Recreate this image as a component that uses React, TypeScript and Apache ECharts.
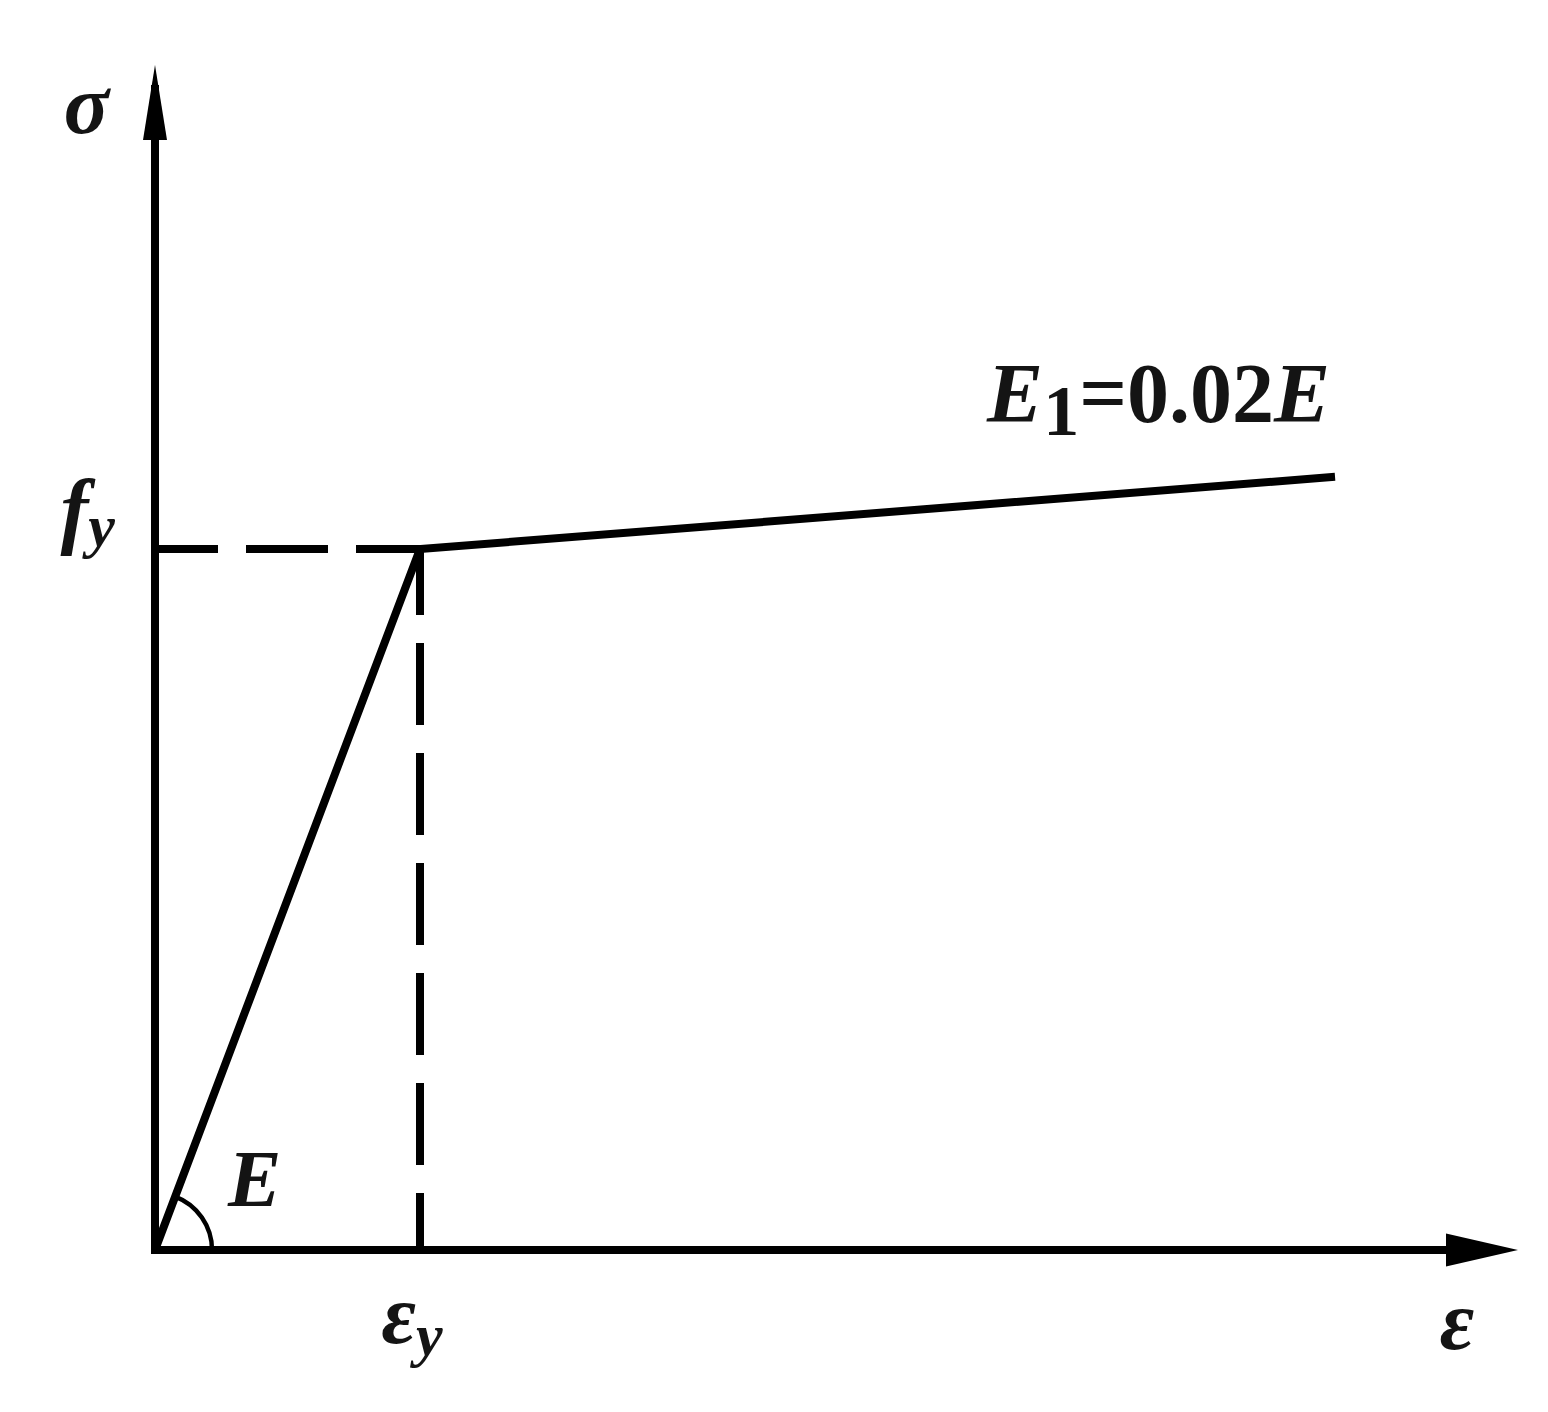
import React, { useEffect, useRef } from "react";
import * as echarts from "echarts";

// Bilinear (hardening) stress–strain model, normalised: ε_y = 1, f_y = 1
const strain = [0, 1, 4.453];
const stress = [0, 1, 1.103];
const yieldStrain = 1;
const yieldStress = 1;
const xMax = 5.068;
const yMax = 1.662;
const xTickLabel = "{m|ε}{s|y}";
const yTickLabel = "{m|f}{s|y}";
const xName = "ε";
const yName = "σ";
const slopeLabel = "E";
const hardeningLabel = ["E", "1", "=0.02", "E"];

const FONT = "Liberation Serif";
const INK = "#141414";
const LW = 8;

export default function App() {
  const ref = useRef<HTMLDivElement>(null);

  useEffect(() => {
    if (!ref.current) return;
    const chart = echarts.init(ref.current, undefined, { renderer: "svg" });

    const lineStyleBase = { color: "#000", width: LW };

    chart.setOption({
      animation: false,
      backgroundColor: "#fff",
      grid: { left: 155, top: 85, right: 50, bottom: 162, containLabel: false },
      xAxis: {
        type: "value",
        min: 0,
        max: xMax,
        name: xName,
        nameLocation: "end",
        nameGap: -41,
        nameTextStyle: {
          fontFamily: FONT,
          fontStyle: "italic",
          fontWeight: "bold",
          fontSize: 84,
          lineHeight: 84,
          color: INK,
          align: "center",
          verticalAlign: "top",
          padding: [28, 0, 0, 0],
        },
        axisLine: {
          show: true,
          symbol: ["none", "triangle"],
          symbolSize: [33, 72],
          symbolOffset: [0, -16],
          lineStyle: { color: "#000", width: LW, cap: "butt" },
        },
        axisTick: { show: false },
        splitLine: { show: false },
        axisLabel: {
          customValues: [yieldStrain],
          formatter: () => xTickLabel,
          margin: 22,
          color: INK,
          padding: [0, 16, 0, 0],
          rich: {
            m: { fontFamily: FONT, fontStyle: "italic", fontWeight: "bold", fontSize: 84, lineHeight: 84, color: INK },
            s: { fontFamily: FONT, fontStyle: "italic", fontWeight: "bold", fontSize: 60, lineHeight: 60, padding: [42, 0, 0, 0], color: INK },
          },
        },
      },
      yAxis: {
        type: "value",
        min: 0,
        max: yMax,
        name: yName,
        nameLocation: "end",
        nameGap: -19,
        nameTextStyle: {
          fontFamily: FONT,
          fontStyle: "italic",
          fontWeight: "bold",
          fontSize: 84,
          lineHeight: 84,
          color: INK,
          align: "right",
          verticalAlign: "middle",
          padding: [0, 46, 0, 0],
        },
        axisLine: {
          show: true,
          symbol: ["none", "triangle"],
          symbolSize: [24, 75],
          symbolOffset: [0, -17.5],
          lineStyle: { color: "#000", width: LW, cap: "butt" },
        },
        axisTick: { show: false },
        splitLine: { show: false },
        axisLabel: {
          customValues: [yieldStress],
          formatter: () => yTickLabel,
          margin: 40,
          color: INK,
          padding: [0, 0, 80, 0],
          rich: {
            m: { fontFamily: FONT, fontStyle: "italic", fontWeight: "bold", fontSize: 84, lineHeight: 84, color: INK },
            s: { fontFamily: FONT, fontStyle: "italic", fontWeight: "bold", fontSize: 60, lineHeight: 60, padding: [34, 0, 0, 0], color: INK },
          },
        },
      },
      series: [
        {
          type: "line",
          data: [
            [0, yieldStress],
            [yieldStrain, yieldStress],
          ],
          symbol: "none",
          lineStyle: { ...lineStyleBase, type: [82, 28], dashOffset: 19 },
          z: 2,
        },
        {
          type: "line",
          data: [
            [yieldStrain, yieldStress],
            [yieldStrain, 0],
          ],
          symbol: "none",
          lineStyle: { ...lineStyleBase, type: [82, 28], dashOffset: 16 },
          z: 2,
        },
        {
          type: "line",
          data: strain.map((s, i) => [s, stress[i]]),
          symbol: "none",
          lineStyle: { ...lineStyleBase, join: "miter" },
          z: 3,
        },
      ],
    });

    const o = chart.convertToPixel({ gridIndex: 0 }, [0, 0]) as number[];
    const yp = chart.convertToPixel({ gridIndex: 0 }, [yieldStrain, yieldStress]) as number[];
    const ep = chart.convertToPixel({ gridIndex: 0 }, [strain[strain.length - 1], stress[stress.length - 1]]) as number[];
    const ang = Math.atan2(o[1] - yp[1], yp[0] - o[0]);

    const bi = { fontFamily: FONT, fontStyle: "italic", fontWeight: "bold", color: INK };

    chart.setOption({
      graphic: [
        {
          type: "rect",
          shape: { x: o[0] - LW / 2, y: o[1] - LW / 2, width: LW, height: LW },
          style: { fill: "#000" },
          z: 10,
        },
        {
          type: "arc",
          shape: { cx: o[0], cy: o[1], r: 57, startAngle: -ang, endAngle: 0, clockwise: true },
          style: { stroke: "#000", lineWidth: 4.5, fill: "none" },
          z: 10,
        },
        {
          type: "text",
          x: o[0] + 73,
          y: o[1] - 71,
          style: {
            text: slopeLabel,
            font: `italic bold 80px "${FONT}"`,
            fill: INK,
            align: "left",
            verticalAlign: "middle",
          },
          z: 10,
        },
        {
          type: "text",
          x: ep[0] - 5,
          y: ep[1] - 83,
          style: {
            text: `{i|${hardeningLabel[0]}}{s|${hardeningLabel[1]}}{n|${hardeningLabel[2]}}{i|${hardeningLabel[3]}}`,
            align: "right",
            verticalAlign: "middle",
            fill: INK,
            rich: {
              i: { ...bi, fontSize: 84, lineHeight: 84 },
              s: { fontFamily: FONT, fontWeight: "bold", color: INK, fontSize: 72, lineHeight: 72, padding: [34, 0, 0, 0] },
              n: { fontFamily: FONT, fontWeight: "bold", color: INK, fontSize: 84, lineHeight: 84 },
            },
          },
          z: 10,
        },
      ],
    });

    return () => chart.dispose();
  }, []);

  return (
    <div
      ref={ref}
      style={{ position: "fixed", left: 0, top: 0, width: 1548, height: 1412, background: "#fff" }}
    />
  );
}
